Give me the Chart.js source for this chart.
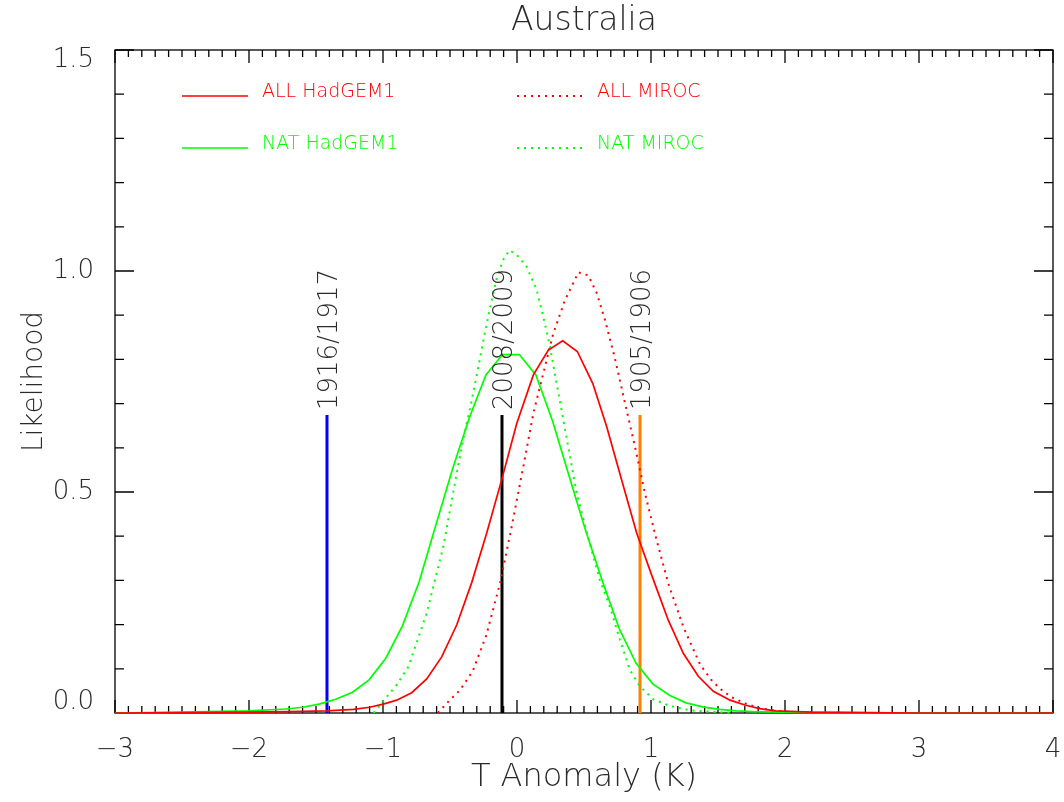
<!DOCTYPE html>
<html>
<head>
<meta charset="utf-8">
<title>Australia</title>
<script src="https://cdn.jsdelivr.net/npm/chart.js@4/dist/chart.umd.min.js"></script>
<style>
  html, body { margin: 0; padding: 0; background: #fff; }
  canvas { display: block; }
</style>
</head>
<body>
<canvas id="myChart" width="1064" height="802"></canvas>
<script>
// ALL HadGEM1 (red, solid)
var allHadX = [-3.0, -2.5, -2.0, -1.7, -1.42, -1.22, -1.10, -0.998, -0.898, -0.786, -0.674, -0.562, -0.450, -0.338, -0.226, -0.114, -0.002, 0.122, 0.234, 0.341, 0.450, 0.565, 0.669, 0.781, 0.893, 1.005, 1.129, 1.241, 1.353, 1.465, 1.59, 1.70, 1.81, 1.93, 2.2, 2.6, 3.0, 4.0];
var allHadY = [0.0, 0.001, 0.002, 0.003, 0.005, 0.008, 0.013, 0.020, 0.029, 0.046, 0.077, 0.127, 0.199, 0.295, 0.407, 0.528, 0.655, 0.765, 0.821, 0.842, 0.818, 0.746, 0.648, 0.527, 0.407, 0.312, 0.210, 0.135, 0.083, 0.049, 0.029, 0.018, 0.010, 0.005, 0.002, 0.001, 0.0, 0.0];

// NAT HadGEM1 (green, solid)
var natHadX = [-3.0, -2.5, -2.0, -1.726, -1.60, -1.477, -1.353, -1.228, -1.104, -0.979, -0.855, -0.730, -0.606, -0.481, -0.357, -0.232, -0.108, 0.017, 0.141, 0.266, 0.390, 0.515, 0.639, 0.764, 0.888, 1.013, 1.137, 1.262, 1.386, 1.511, 1.635, 1.76, 2.0, 2.5, 3.0, 4.0];
var natHadY = [0.0, 0.002, 0.005, 0.009, 0.013, 0.020, 0.031, 0.047, 0.075, 0.124, 0.197, 0.297, 0.425, 0.552, 0.667, 0.765, 0.811, 0.811, 0.765, 0.660, 0.535, 0.410, 0.297, 0.190, 0.113, 0.066, 0.040, 0.023, 0.014, 0.008, 0.005, 0.003, 0.002, 0.001, 0.0, 0.0];

// ALL MIROC (red, dotted)
var allMirX = [-0.59, -0.525, -0.425, -0.33, -0.23, -0.127, -0.04, 0.047, 0.122, 0.209, 0.271, 0.358, 0.458, 0.532, 0.595, 0.657, 0.731, 0.806, 0.881, 0.955, 1.042, 1.129, 1.241, 1.366, 1.45, 1.515, 1.6, 1.7, 1.8, 1.9, 2.05, 2.2];
var allMirY = [0.0, 0.022, 0.052, 0.095, 0.175, 0.293, 0.421, 0.557, 0.678, 0.784, 0.859, 0.934, 0.997, 0.990, 0.950, 0.889, 0.802, 0.701, 0.602, 0.497, 0.391, 0.293, 0.195, 0.110, 0.075, 0.055, 0.036, 0.022, 0.012, 0.006, 0.002, 0.0];

// NAT MIROC (green, dotted)
var natMirX = [-1.07, -1.0, -0.9, -0.81, -0.75, -0.674, -0.612, -0.55, -0.5, -0.45, -0.4, -0.35, -0.3, -0.25, -0.2, -0.15, -0.1, -0.057, 0.0, 0.072, 0.147, 0.196, 0.246, 0.296, 0.346, 0.396, 0.446, 0.507, 0.569, 0.619, 0.694, 0.769, 0.843, 0.918, 1.017, 1.14, 1.29, 1.44, 1.6];
var natMirY = [0.0, 0.026, 0.063, 0.105, 0.158, 0.226, 0.301, 0.376, 0.459, 0.542, 0.620, 0.690, 0.765, 0.844, 0.919, 0.985, 1.027, 1.047, 1.036, 1.010, 0.957, 0.897, 0.829, 0.745, 0.663, 0.580, 0.497, 0.425, 0.355, 0.300, 0.240, 0.165, 0.097, 0.060, 0.031, 0.016, 0.006, 0.003, 0.0];

// observed seasons (vertical bars)
var eventLabels = ['1916/1917', '2008/2009', '1905/1906'];
var eventX = [-1.418, -0.112, 0.918];
var eventHeight = [0.674, 0.674, 0.674];
var eventColors = ['#0000ff', '#000000', '#ff8000'];

var xTicks = [-3, -2, -1, 0, 1, 2, 3, 4];
var yTicks = [0.0, 0.5, 1.0, 1.5];

var FONT = "'DejaVu Sans ExtraLight', 'DejaVu Sans', sans-serif";
var TEXT = '#2a2a2a';
Chart.defaults.font.family = FONT;
Chart.defaults.font.weight = '200';
Chart.defaults.color = TEXT;

function toPoints(xs, ys) {
    return xs.map(function (x, i) { return { x: x, y: ys[i] }; });
}

var curveSets = [
    { label: 'ALL HadGEM1', data: toPoints(allHadX, allHadY), borderColor: '#ff0000', borderDash: [], col: 0, row: 0 },
    { label: 'NAT HadGEM1', data: toPoints(natHadX, natHadY), borderColor: '#00ff00', borderDash: [], col: 0, row: 1 },
    { label: 'ALL MIROC', data: toPoints(allMirX, allMirY), borderColor: '#ff0000', borderDash: [2, 5], col: 1, row: 0 },
    { label: 'NAT MIROC', data: toPoints(natMirX, natMirY), borderColor: '#00ff00', borderDash: [2, 5], col: 1, row: 1 }
];

var datasets = curveSets.map(function (c) {
    return {
        label: c.label, data: c.data, borderColor: c.borderColor, borderDash: c.borderDash,
        borderWidth: c.borderDash.length ? 2 : 1.7, pointRadius: 0, tension: 0, clip: false,
        legendCol: c.col, legendRow: c.row
    };
});
eventLabels.forEach(function (lab, i) {
    datasets.push({
        label: lab, isEvent: true,
        data: [{ x: eventX[i], y: 0 }, { x: eventX[i], y: eventHeight[i] }],
        borderColor: eventColors[i], borderWidth: 3, pointRadius: 0, clip: false
    });
});

// IDL-style box with inward ticks on all four sides
var boxAxes = {
    id: 'boxAxes',
    beforeDatasetsDraw: function (chart) {
        var ctx = chart.ctx, ca = chart.chartArea;
        var xs = chart.scales.x, ys = chart.scales.y;
        ctx.save();
        ctx.strokeStyle = '#000';
        ctx.lineWidth = 1.3;
        ctx.strokeRect(ca.left, ca.top, ca.right - ca.left, ca.bottom - ca.top);
        ctx.beginPath();
        for (var k = -30; k <= 40; k++) {
            var px = xs.getPixelForValue(k / 10);
            var len = (k % 10 === 0) ? 13 : 7;
            ctx.moveTo(px, ca.bottom); ctx.lineTo(px, ca.bottom - len);
            ctx.moveTo(px, ca.top); ctx.lineTo(px, ca.top + len);
        }
        for (var j = 0; j <= 15; j++) {
            var py = ys.getPixelForValue(j / 10);
            var ln = (j % 5 === 0) ? 19 : 9;
            ctx.moveTo(ca.left, py); ctx.lineTo(ca.left + ln, py);
            ctx.moveTo(ca.right, py); ctx.lineTo(ca.right - ln, py);
        }
        ctx.stroke();
        ctx.restore();
    },
    afterDatasetsDraw: function (chart) {
        var ctx = chart.ctx, ca = chart.chartArea;
        ctx.save();
        // labels over the vertical bars
        chart.data.datasets.forEach(function (ds, i) {
            if (!ds.isEvent) return;
            var top = chart.getDatasetMeta(i).data[1];
            ctx.save();
            ctx.translate(top.x + 3, top.y - 5);
            ctx.rotate(-Math.PI / 2);
            ctx.font = '200 26px ' + FONT;
            ctx.fillStyle = TEXT;
            ctx.textAlign = 'left';
            ctx.textBaseline = 'middle';
            ctx.fillText(ds.label, 0, 0);
            ctx.restore();
        });
        // legend in the upper left
        var colLine = [ca.left + 67, ca.left + 402];
        var rowY = [ca.top + 46, ca.top + 98];
        chart.data.datasets.forEach(function (ds) {
            if (ds.isEvent) return;
            var x0 = colLine[ds.legendCol], y0 = rowY[ds.legendRow];
            ctx.strokeStyle = ds.borderColor;
            ctx.lineWidth = ds.borderDash.length ? 2 : 1.3;
            ctx.setLineDash(ds.borderDash);
            ctx.beginPath();
            ctx.moveTo(x0, y0); ctx.lineTo(x0 + 66, y0);
            ctx.stroke();
            ctx.setLineDash([]);
            ctx.font = '200 19px ' + FONT;
            ctx.fillStyle = ds.borderColor;
            ctx.textAlign = 'left';
            ctx.textBaseline = 'alphabetic';
            ctx.fillText(ds.label, x0 + 80, y0 + 1);
        });
        ctx.restore();
    }
};

var ctx = document.getElementById('myChart').getContext('2d');
new Chart(ctx, {
    type: 'line',
    data: { datasets: datasets },
    options: {
        responsive: false,
        animation: false,
        devicePixelRatio: 1,
        layout: { padding: { left: 0, right: 11, top: 0, bottom: 0 } },
        plugins: {
            legend: { display: false },
            tooltip: { enabled: false },
            title: {
                display: true, text: 'Australia', color: TEXT, fullSize: false,
                font: { size: 33, weight: '200' },
                padding: { top: 2, bottom: 8.4 }
            }
        },
        scales: {
            x: {
                type: 'linear', min: -3, max: 4,
                grid: { display: false }, border: { display: false },
                afterBuildTicks: function (s) { s.ticks = xTicks.map(function (v) { return { value: v }; }); },
                ticks: {
                    font: { size: 26, weight: '200' }, padding: 14, maxRotation: 0,
                    callback: function (v) { return v < 0 ? '\u2212' + Math.abs(v) : String(v); }
                },
                title: { display: true, text: 'T Anomaly (K)', font: { size: 32, weight: '200' }, padding: { top: 0, bottom: 5 } },
                afterFit: function (s) { s.height = 89; s.paddingLeft = 0; s.paddingRight = 0; }
            },
            y: {
                type: 'linear', min: 0, max: 1.5,
                grid: { display: false }, border: { display: false },
                afterBuildTicks: function (s) { s.ticks = yTicks.map(function (v) { return { value: v }; }); },
                ticks: {
                    font: { size: 26, weight: '200', lineHeight: 0.8 }, padding: 13,
                    callback: function (v) {
                        var t = v.toFixed(1);
                        if (v >= 1.5) return ['', t];
                        if (v <= 0) return [t, ''];
                        return t;
                    }
                },
                title: { display: true, text: 'Likelihood', font: { size: 28, weight: '200' }, padding: { top: 18, bottom: 0 } },
                afterFit: function (s) { s.width = 115; s.paddingTop = 0; s.paddingBottom = 0; }
            }
        }
    },
    plugins: [boxAxes]
});
</script>
</body>
</html>
